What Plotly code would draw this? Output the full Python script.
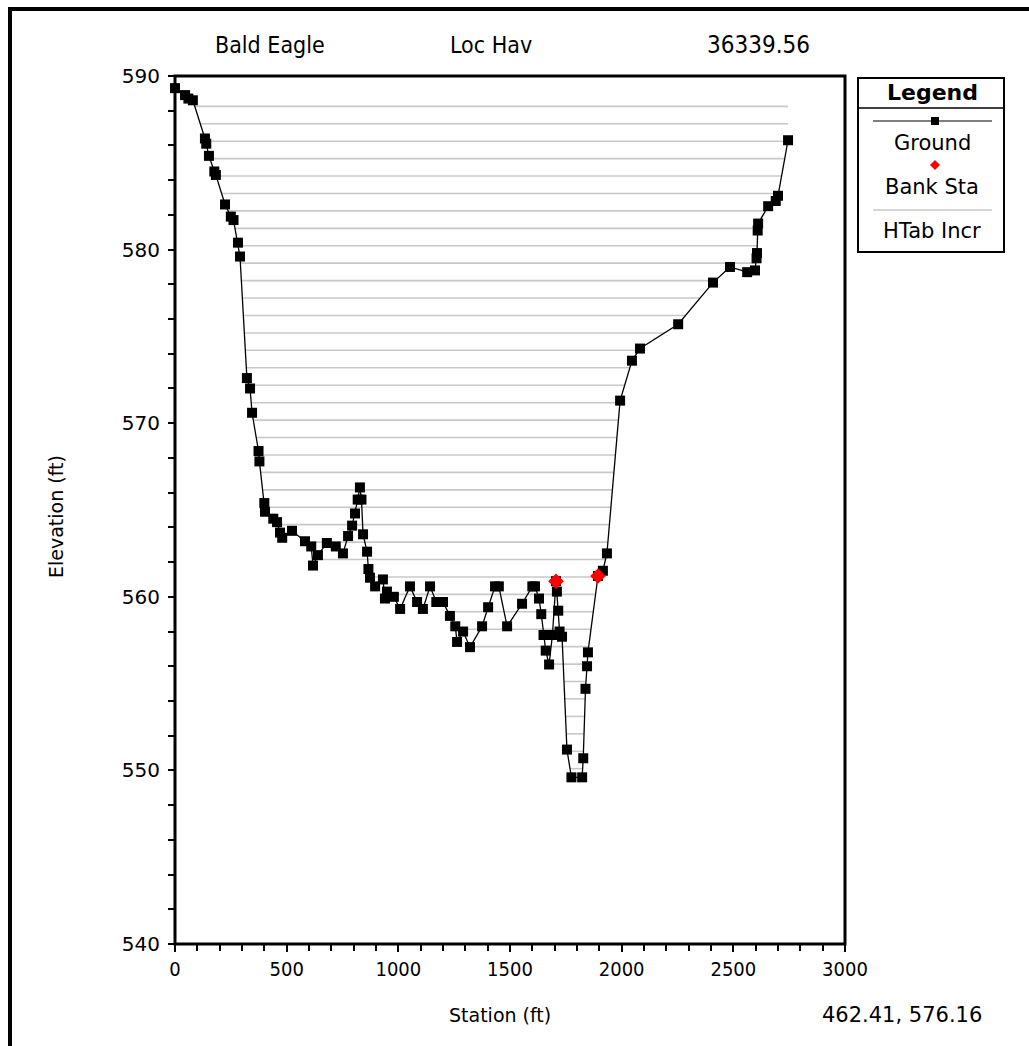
import plotly.graph_objects as go
import numpy as np

# ---------------- data ----------------
station = [0, 45, 60, 80, 134, 140, 152, 176, 183, 224, 250, 262, 282, 291, 322, 336, 345, 374, 378, 400,
           403, 440, 457, 470, 480, 524, 582, 610, 618, 640, 680, 720, 752, 775, 793, 806, 818, 828, 835, 842,
           860, 866, 873, 896, 931, 940, 949, 980, 1008, 1052, 1084, 1110, 1142, 1170, 1200, 1231, 1255, 1263,
           1290, 1321, 1375, 1402, 1433, 1450, 1487, 1554, 1600, 1612, 1630, 1640, 1650, 1660, 1675, 1690, 1706,
           1710, 1716, 1722, 1733, 1755, 1775, 1823, 1828, 1838, 1845, 1849, 1894, 1916, 1934, 1993, 2046, 2082,
           2253, 2409, 2485, 2562, 2597, 2604, 2606, 2609, 2611, 2656, 2690, 2700, 2745]
elevation = [589.3, 588.9, 588.7, 588.6, 586.4, 586.1, 585.4, 584.5, 584.3, 582.6, 581.9, 581.7, 580.4, 579.6,
             572.6, 572.0, 570.6, 568.4, 567.8, 565.4, 564.9, 564.5, 564.3, 563.7, 563.4, 563.8, 563.2, 562.9,
             561.8, 562.4, 563.1, 562.9, 562.5, 563.5, 564.1, 564.8, 565.6, 566.3, 565.6, 563.6, 562.6, 561.6,
             561.1, 560.6, 561.0, 559.9, 560.3, 560.0, 559.3, 560.6, 559.7, 559.3, 560.6, 559.7, 559.7, 558.9,
             558.3, 557.4, 558.0, 557.1, 558.3, 559.4, 560.6, 560.6, 558.3, 559.6, 560.6, 560.6, 559.9, 559.0,
             557.8, 556.9, 556.1, 557.8, 560.9, 560.3, 559.2, 558.0, 557.7, 551.2, 549.6, 549.6, 550.7, 554.7,
             556.0, 556.8, 561.2, 561.5, 562.5, 571.3, 573.6, 574.3, 575.7, 578.1, 579.0, 578.7, 578.8, 579.5,
             579.8, 581.1, 581.5, 582.5, 582.8, 583.1, 586.3]

bank_station = [1706, 1894]
bank_elevation = [560.9, 561.2]

htab_elevations = [550.10, 551.10, 552.11, 553.11, 554.12, 555.12, 556.12, 557.13, 558.13, 559.14, 560.14,
                   561.14, 562.15, 563.15, 564.16, 565.16, 566.16, 567.17, 568.17, 569.18, 570.18, 571.18,
                   572.19, 573.19, 574.20, 575.20, 576.20, 577.21, 578.21, 579.22, 580.22, 581.22, 582.23,
                   583.23, 584.24, 585.24, 586.24, 587.25, 588.25]

title_parts = ["Bald Eagle", "Loc Hav", "36339.56"]
x_ticks = [0, 500, 1000, 1500, 2000, 2500, 3000]
y_ticks = [540, 550, 560, 570, 580, 590]
coord_text = "462.41, 576.16"

# ---------------- HTab lines: span between outer ground crossings ----------------
st = np.array(station, float)
el = np.array(elevation, float)
hx, hy = [], []
for z in htab_elevations:
    xs = []
    for i in range(len(st) - 1):
        a, b = el[i], el[i + 1]
        if (a - z) * (b - z) <= 0 and a != b:
            xs.append(st[i] + (z - a) / (b - a) * (st[i + 1] - st[i]))
    if el[0] < z:
        xs.append(st[0])
    if el[-1] < z:
        xs.append(st[-1])
    if len(xs) >= 2:
        hx += [min(xs), max(xs), None]
        hy += [z, z, None]

# ---------------- layout geometry (pixels) ----------------
W, H = 1029, 1046
L, R, T, B = 175, 845, 76, 944


def px(x):
    return (x - L) / (R - L)


def py(y):
    return (B - y) / (B - T)


fig = go.Figure()
fig.add_trace(go.Scatter(x=hx, y=hy, mode="lines", line=dict(color="#c8c8c8", width=1.6),
                         hoverinfo="skip", showlegend=False, cliponaxis=False))
fig.add_trace(go.Scatter(x=station, y=elevation, mode="lines+markers",
                         line=dict(color="black", width=1.3),
                         marker=dict(symbol="square", size=10, color="black"),
                         showlegend=False, cliponaxis=False))
fig.add_trace(go.Scatter(x=bank_station, y=bank_elevation, mode="markers",
                         marker=dict(symbol="diamond", size=12, color="#ff0000"),
                         showlegend=False, cliponaxis=False))

shapes = []
# plot frame
shapes.append(dict(type="rect", xref="paper", yref="paper", x0=0, x1=1, y0=0, y1=1,
                   line=dict(color="black", width=3)))
# outer window border (top & left)
shapes.append(dict(type="line", xref="paper", yref="paper", x0=px(8), x1=px(W + 5), y0=py(9), y1=py(9),
                   line=dict(color="black", width=4)))
shapes.append(dict(type="line", xref="paper", yref="paper", x0=px(10), x1=px(10), y0=py(7), y1=py(H + 5),
                   line=dict(color="black", width=4)))
# legend box
shapes.append(dict(type="rect", xref="paper", yref="paper", x0=px(858), x1=px(1004), y0=py(252), y1=py(78),
                   line=dict(color="black", width=2)))
shapes.append(dict(type="line", xref="paper", yref="paper", x0=px(858), x1=px(1004), y0=py(108), y1=py(108),
                   line=dict(color="black", width=1.5)))
shapes.append(dict(type="line", xref="paper", yref="paper", x0=px(873), x1=px(992), y0=py(121), y1=py(121),
                   line=dict(color="black", width=1.2)))
shapes.append(dict(type="rect", xref="paper", yref="paper", x0=px(931), x1=px(939), y0=py(125), y1=py(117),
                   fillcolor="black", line=dict(color="black", width=0)))
shapes.append(dict(type="path", xref="paper", yref="paper",
                   path=f"M {px(935)},{py(160)} L {px(940)},{py(165)} L {px(935)},{py(170)} L {px(930)},{py(165)} Z",
                   fillcolor="#ff0000", line=dict(color="#ff0000", width=0)))
shapes.append(dict(type="line", xref="paper", yref="paper", x0=px(873), x1=px(992), y0=py(210), y1=py(210),
                   line=dict(color="#c8c8c8", width=1.5)))

font_narrow = "Liberation Sans Narrow, DejaVu Sans Condensed, Liberation Sans, sans-serif"
font_wide = "DejaVu Sans, sans-serif"
annotations = []
for txt, xc, sz in zip(title_parts, [270, 491, 758], [23, 23, 24]):
    annotations.append(dict(text=txt, x=px(xc), y=py(45), xref="paper", yref="paper", showarrow=False,
                            xanchor="center", yanchor="middle", font=dict(family=font_narrow, size=sz, color="black")))
annotations.append(dict(text="Legend", x=px(932), y=py(92), xref="paper", yref="paper", showarrow=False,
                        xanchor="center", yanchor="middle", font=dict(family=font_wide, size=22, color="black", weight="bold")))
for txt, yc in [("Ground", 143), ("Bank Sta", 187), ("HTab Incr", 231)]:
    annotations.append(dict(text=txt, x=px(932), y=py(yc), xref="paper", yref="paper", showarrow=False,
                            xanchor="center", yanchor="middle", font=dict(family=font_wide, size=21, color="black")))
annotations.append(dict(text="Station (ft)", x=px(500), y=py(1015), xref="paper", yref="paper", showarrow=False,
                        xanchor="center", yanchor="middle", font=dict(family=font_wide, size=19, color="black")))
annotations.append(dict(text=coord_text, x=px(902), y=py(1015), xref="paper", yref="paper", showarrow=False,
                        xanchor="center", yanchor="middle", font=dict(family=font_wide, size=21, color="black")))
annotations.append(dict(text="Elevation (ft)", x=px(56), y=py(517), xref="paper", yref="paper", showarrow=False,
                        textangle=-90, xanchor="center", yanchor="middle",
                        font=dict(family=font_wide, size=19, color="black")))

fig.update_layout(
    width=W, height=H, autosize=False,
    margin=dict(l=L, r=W - R, t=T, b=H - B, pad=0),
    paper_bgcolor="white", plot_bgcolor="white",
    showlegend=False,
    shapes=shapes, annotations=annotations,
    xaxis=dict(range=[0, 3000], tickvals=x_ticks, ticktext=[str(v) for v in x_ticks],
               ticks="outside", ticklen=7, tickwidth=1.5, tickcolor="black",
               minor=dict(dtick=100, tick0=0, ticks="outside", ticklen=6, tickwidth=1.5, tickcolor="black"),
               showgrid=False, zeroline=False, showline=False,
               tickfont=dict(family=font_narrow, size=20, color="black")),
    yaxis=dict(range=[540, 590], tickvals=y_ticks, ticktext=[str(v) for v in y_ticks],
               ticks="outside", ticklen=6, tickwidth=1.5, tickcolor="black",
               minor=dict(dtick=2, tick0=540, ticks="outside", ticklen=6, tickwidth=1.5, tickcolor="black"),
               showgrid=False, zeroline=False, showline=False, ticklabelstandoff=4,
               tickfont=dict(family=font_wide, size=20, color="black")),
)

fig.write_html("out.html", config={"displayModeBar": False},
               post_script="document.body.style.margin='0';")
